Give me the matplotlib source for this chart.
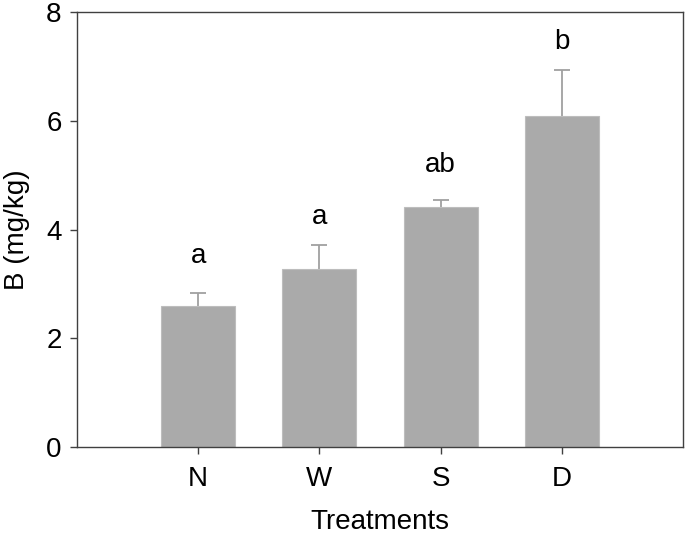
import matplotlib
matplotlib.use("Agg")
from matplotlib import pyplot as plt
import numpy as np

treatments = ["N", "W", "S", "D"]
means = [2.59, 3.27, 4.42, 6.08]
errors = [0.24, 0.45, 0.13, 0.86]
letters = ["a", "a", "ab", "b"]

plt.rcParams["font.family"] = ["Liberation Sans", "DejaVu Sans"]

fig = plt.figure(figsize=(6.85, 5.4), dpi=100)
ax = fig.add_axes([77/685, 1 - 447/540, (683-77)/685, (447-12)/540])

x = np.arange(len(treatments))
ax.bar(x, means, width=0.61, color="#aaaaaa", edgecolor="#bdbdbd", linewidth=0.8, zorder=2)
eb = ax.errorbar(x, means, yerr=[np.zeros(len(errors)), errors], fmt="none",
                 ecolor="#a0a0a0", elinewidth=1.3, capsize=5.5, capthick=1.3, zorder=1)
# drop the lower caps, only the upper half of the bar is shown
eb[1][0].remove()

offsets = [22, 15, 20, 15]
for xi, m, e, lab, off in zip(x, means, errors, letters, offsets):
    ax.annotate(lab, (xi, m + e), xytext=(0, off), textcoords="offset points",
                ha="center", va="baseline", fontsize=20)

ax.set_xlim(-1, 4)
ax.set_ylim(0, 8)
ax.set_xticks(x)
ax.set_xticklabels(treatments)
ax.set_yticks([0, 2, 4, 6, 8])
ax.tick_params(direction="out", length=5, width=1, colors="#404040", labelsize=20,
               labelcolor="black", pad=6)
ax.tick_params(axis="x", pad=9)
for s in ax.spines.values():
    s.set_color("#404040")
    s.set_linewidth(1.0)

ax.set_xlabel("Treatments", fontsize=20, labelpad=12)
ax.set_ylabel("B (mg/kg)", fontsize=20, labelpad=12)

fig.savefig("out.png", dpi=100)
